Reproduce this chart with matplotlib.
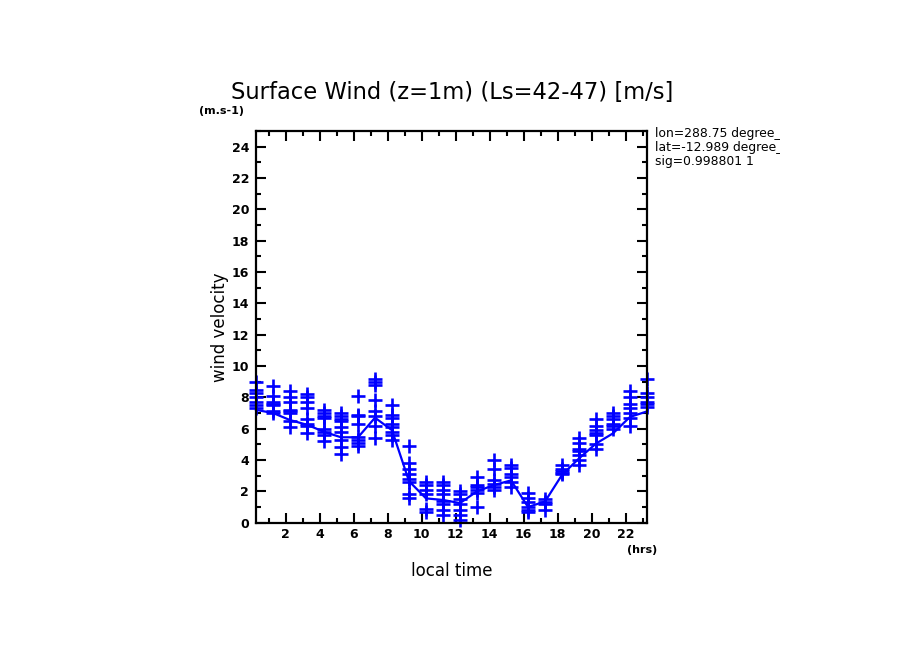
import numpy as np
import matplotlib
matplotlib.use("Agg")
import matplotlib.pyplot as plt
from matplotlib.ticker import MultipleLocator
from matplotlib.transforms import Bbox

# heure locale de chaque colonne
heures = [h + 0.25 for h in range(24)]

# courbe tracee (vitesse en m/s)
courbe = [7.2, 7.0, 6.55, 6.25, 5.8, 5.45, 5.45, 6.7, 5.9, 2.65, 1.55, 1.45,
          1.25, 2.0, 2.4, 2.7, 1.0, 1.35, 3.05, 4.1, 5.05, 5.7, 6.75, 7.1]

# points individuels (+) par heure
points = [
    [9.0, 8.5, 8.3, 8.0, 7.7, 7.5, 7.3],
    [8.7, 8.1, 7.7, 7.6, 7.5, 7.1, 7.0],
    [8.4, 8.0, 7.7, 7.2, 7.1, 7.0, 6.5, 6.1],
    [8.2, 8.0, 7.7, 7.3, 6.6, 6.3, 6.2, 5.7],
    [7.2, 7.0, 6.8, 6.7, 6.0, 5.8, 5.6, 5.2],
    [7.0, 6.8, 6.6, 6.5, 6.1, 5.8, 5.3, 4.8, 4.4],
    [8.1, 6.9, 6.8, 6.3, 5.5, 5.3, 5.1, 4.9],
    [9.2, 9.0, 8.8, 7.8, 7.1, 6.8, 6.2, 5.4],
    [7.5, 6.9, 6.7, 6.3, 6.1, 5.8, 5.6, 5.3],
    [4.9, 3.8, 3.4, 3.1, 2.8, 2.6, 1.8, 1.6],
    [2.6, 2.4, 2.1, 1.8, 0.9, 0.7],
    [2.6, 2.4, 2.1, 1.8, 1.4, 1.2, 0.8, 0.5],
    [2.0, 1.8, 1.5, 1.2, 0.8, 0.5, 0.2],
    [2.9, 2.4, 2.3, 2.1, 1.9, 1.0],
    [4.0, 3.4, 2.7, 2.5, 2.3, 2.1],
    [3.7, 3.5, 3.1, 2.9, 2.6, 2.3],
    [1.9, 1.6, 1.3, 1.0, 0.8, 0.7],
    [1.5, 1.3, 1.2, 0.8],
    [3.7, 3.4, 3.3, 3.2, 3.1],
    [5.4, 5.1, 4.7, 4.6, 4.3, 4.0, 3.7],
    [6.6, 6.2, 5.9, 5.7, 5.6, 5.0, 4.7],
    [7.0, 6.8, 6.6, 6.3, 6.2, 6.0],
    [8.4, 8.0, 7.6, 7.3, 7.0, 6.7, 6.2],
    [9.2, 8.3, 8.0, 7.7, 7.6, 7.4],
]

xticks = [2, 4, 6, 8, 10, 12, 14, 16, 18, 20, 22]
yticks = [0, 2, 4, 6, 8, 10, 12, 14, 16, 18, 20, 22, 24]

bleu = (0, 0, 1)

fig = plt.figure(figsize=(9.04, 6.54), dpi=100)
ax = fig.add_axes([0.2832, 0.2008, 0.4325, 0.5989])

xs = []
ys = []
for h, pts in zip(heures, points):
    for v in pts:
        xs.append(h)
        ys.append(v)
ax.plot(xs, ys, "+", color=bleu, markersize=9.5, markeredgewidth=1.9, clip_on=False)
ax.plot(heures, courbe, "-", color=bleu, linewidth=1.6, clip_on=False)

ax.set_xlim(0.25, 23.25)
ax.set_ylim(0, 25)
ax.set_xticks(xticks)
ax.set_yticks(yticks)
ax.xaxis.set_minor_locator(MultipleLocator(1))
ax.yaxis.set_minor_locator(MultipleLocator(1))
ax.tick_params(which="both", direction="in", top=True, right=True, width=1.5,
               labelsize=9)
ax.tick_params(which="major", length=7)
ax.tick_params(which="minor", length=3.5)
ax.tick_params(axis="x", pad=4)
ax.tick_params(axis="y", pad=5)
ax.tick_params(right=True, labelright=False, top=True, labeltop=False)
for lab in ax.get_xticklabels() + ax.get_yticklabels():
    lab.set_fontweight("bold")
for s in ax.spines.values():
    s.set_linewidth(1.6)

ax.set_xlabel("local time", fontsize=12, labelpad=15)
ax.set_ylabel("wind velocity", fontsize=12, labelpad=2)

fig.text(0.5, 1 - 92 / 654, "Surface Wind (z=1m) (Ls=42-47) [m/s]", fontsize=16.3,
         ha="center", va="center")
fig.text(222 / 904, 1 - 111 / 654, "(m.s-1)", fontsize=8, fontweight="bold",
         ha="center", va="center")
fig.text(642 / 904, 1 - 550 / 654, "(hrs)", fontsize=8, fontweight="bold",
         ha="center", va="center")

# infos a droite, coupees comme sur l'original
clip = Bbox.from_extents(1, 1, 780, 654)
infos = ["lon=288.75 degree_e", "lat=-12.989 degree_n", "sig=0.998801 1"]
for i, t in enumerate(infos):
    txt = fig.text(655 / 904, 1 - (133 + 14 * i) / 654, t, fontsize=8.9,
                   ha="left", va="center")
    txt.set_clip_box(clip)
    txt.set_clip_on(True)

fig.savefig("out.png", dpi=100)
